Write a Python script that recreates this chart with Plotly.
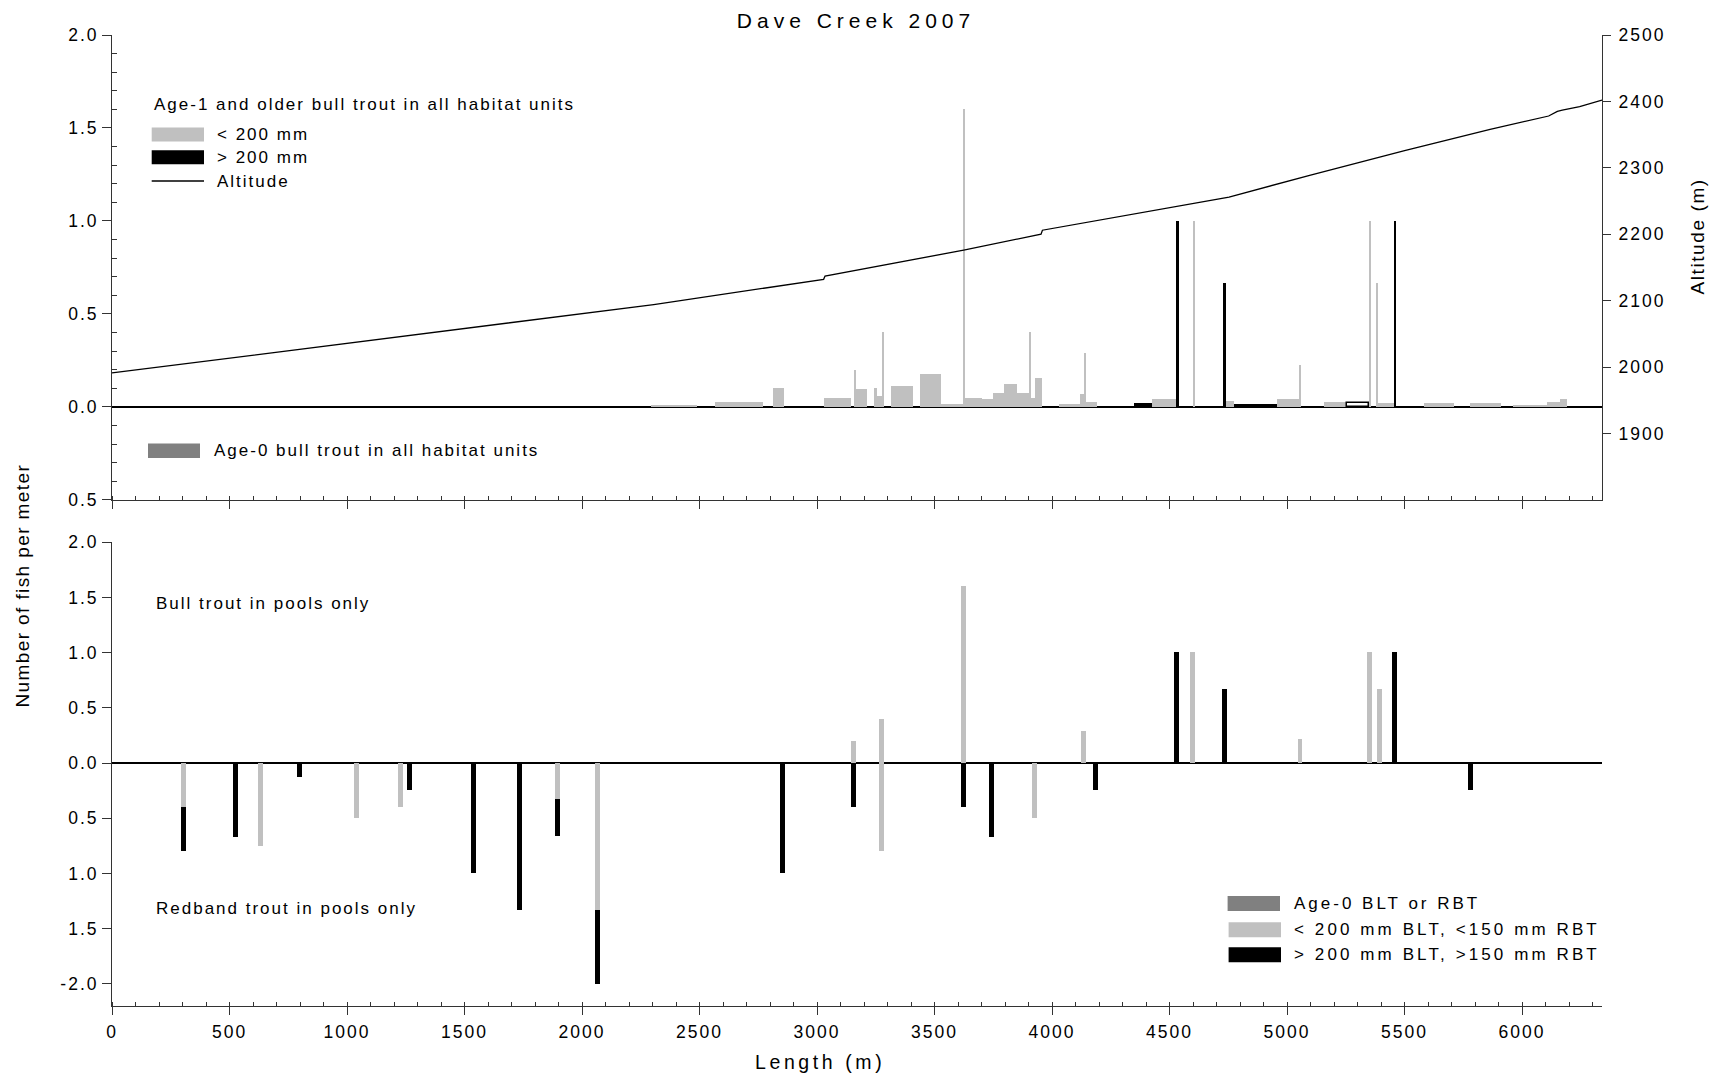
import plotly.graph_objects as go

# ---------------- data ----------------
X_MAX = 6340

# Top panel: age-1 and older bull trout in all habitat units, < 200 mm (gray)
small_start = [2295, 2564, 2814, 3028, 3156, 3166, 3241, 3255, 3277, 3313,
               3440, 3528, 3621, 3630, 3702, 3749, 3794, 3851, 3900, 3910,
               3929, 4030, 4120, 4135, 4145, 4425, 4598, 4740, 4957, 5052,
               5157, 5350, 5379, 5387, 5581, 5780, 5960, 6108, 6161]
small_end = [2490, 2770, 2861, 3145, 3166, 3213, 3255, 3277, 3285, 3407,
             3528, 3621, 3630, 3702, 3749, 3794, 3851, 3900, 3910, 3929,
             3957, 4120, 4135, 4145, 4191, 4530, 4608, 4772, 5052, 5061,
             5254, 5359, 5387, 5454, 5712, 5911, 6108, 6161, 6191]
small_val = [0.008, 0.024, 0.100, 0.050, 0.200, 0.094, 0.104, 0.058, 0.400, 0.110,
             0.175, 0.015, 1.600, 0.048, 0.040, 0.072, 0.123, 0.077, 0.400, 0.046,
             0.153, 0.014, 0.071, 0.290, 0.025, 0.040, 1.000, 0.033, 0.044, 0.225,
             0.025, 1.000, 0.667, 0.018, 0.020, 0.020, 0.008, 0.024, 0.040]

# Top panel: > 200 mm (black)
large_start = [4347, 4530, 4731, 4773, 5455]
large_end = [4425, 4538, 4739, 4957, 5463]
large_val = [0.018, 1.000, 0.667, 0.013, 1.000]

# Top panel: > 200 mm unit drawn as outline
outline_start = [5254]
outline_end = [5350]
outline_val = [0.022]

# Altitude profile (m)
alt_x = [0, 2078, 2305, 3028, 3034, 3624, 3953, 3959, 4291, 4753,
         5100, 5500, 5864, 6113, 6150, 6171, 6245, 6340]
alt_y = [1991, 2084, 2094, 2132, 2137, 2176, 2200, 2206, 2227, 2256,
         2289, 2326, 2358, 2378, 2385, 2387, 2392, 2402]

# Bottom panel: bull trout in pools only (positive)
bull_small_x = [3157, 3276, 3622, 4134, 4598, 5055, 5352, 5392]
bull_small = [0.20, 0.40, 1.60, 0.29, 1.00, 0.22, 1.00, 0.67]
bull_large_x = [4530, 4733, 5457]
bull_large = [1.00, 0.67, 1.00]

# Bottom panel: redband trout in pools only (plotted downward)
rbt_small_x = [303, 631, 1042, 1227, 1897, 2064, 3276, 3926]
rbt_small = [0.40, 0.75, 0.50, 0.40, 0.33, 1.33, 0.80, 0.50]
rbt_large_x = [303, 525, 798, 1264, 1539, 1734, 1897, 2064, 2853, 3157,
               3622, 3744, 4186, 5782]
rbt_large = [0.40, 0.67, 0.13, 0.25, 1.00, 1.33, 0.33, 0.67, 1.00, 0.40,
             0.40, 0.67, 0.25, 0.25]

top_ticks = [-0.5, 0.0, 0.5, 1.0, 1.5, 2.0]
top_ticktext = ["0.5", "0.0", "0.5", "1.0", "1.5", "2.0"]
bot_ticks = [-2.0, -1.5, -1.0, -0.5, 0.0, 0.5, 1.0, 1.5, 2.0]
bot_ticktext = ["-2.0", "1.5", "1.0", "0.5", "0.0", "0.5", "1.0", "1.5", "2.0"]
alt_ticks = [1900, 2000, 2100, 2200, 2300, 2400, 2500]

# ---------------- styling / geometry ----------------
GRAY = "#c0c0c0"
DARK = "#808080"
AX = "#333333"
FONT = "Liberation Sans, Arial, sans-serif"
W, H = 1711, 1077
L, R, T, B = 112, 109, 35, 71
PW, PH = W - L - R, H - T - B


def px(xp):
    return (xp - L) / PW


def py(yp):
    return (H - B - yp) / PH


def centers(s, e):
    return [(a + b) / 2 for a, b in zip(s, e)], [b - a for a, b in zip(s, e)]


fig = go.Figure()

# top panel bars
cx, wd = centers(small_start, small_end)
fig.add_trace(go.Bar(x=cx, y=small_val, width=wd, marker=dict(color=GRAY, line=dict(width=0)),
                     xaxis="x2", yaxis="y2", name="< 200 mm"))
cx, wd = centers(large_start, large_end)
fig.add_trace(go.Bar(x=cx, y=large_val, width=wd, marker=dict(color="black", line=dict(width=0)),
                     xaxis="x2", yaxis="y2", name="> 200 mm"))
cx, wd = centers(outline_start, outline_end)
fig.add_trace(go.Bar(x=cx, y=outline_val, width=wd,
                     marker=dict(color="white", line=dict(width=1.5, color="black")),
                     xaxis="x2", yaxis="y2", name="> 200 mm outline"))
# altitude
fig.add_trace(go.Scatter(x=alt_x, y=alt_y, mode="lines", line=dict(color="black", width=1.3),
                         xaxis="x2", yaxis="y3", name="Altitude"))

# bottom panel bars
BW = 21
fig.add_trace(go.Bar(x=bull_small_x, y=bull_small, width=BW,
                     marker=dict(color=GRAY, line=dict(width=0)), xaxis="x", yaxis="y"))
fig.add_trace(go.Bar(x=bull_large_x, y=bull_large, width=BW,
                     marker=dict(color="black", line=dict(width=0)), xaxis="x", yaxis="y"))
fig.add_trace(go.Bar(x=rbt_small_x, y=[-v for v in rbt_small], width=BW,
                     marker=dict(color=GRAY, line=dict(width=0)), xaxis="x", yaxis="y"))
small_lookup = dict(zip(rbt_small_x, rbt_small))
rbt_base = [-small_lookup.get(x, 0.0) for x in rbt_large_x]
fig.add_trace(go.Bar(x=rbt_large_x, y=[-v for v in rbt_large], base=rbt_base, width=BW,
                     marker=dict(color="black", line=dict(width=0)), xaxis="x", yaxis="y"))

tickfont = dict(family=FONT, size=17.5, color="black")
xcommon = dict(range=[0, X_MAX], showline=True, linecolor=AX, linewidth=1, ticks="outside",
               ticklen=8, tickwidth=1, tickcolor=AX, tick0=0, dtick=500, showgrid=False,
               zeroline=False, tickfont=tickfont,
               minor=dict(ticks="inside", ticklen=4, tick0=0, dtick=100, tickcolor=AX, tickwidth=1,
                          showgrid=False))

minor_top = [round(-0.5 + 0.1 * i, 2) for i in range(26) if i % 5 != 0]

fig.update_layout(
    width=W, height=H,
    margin=dict(l=L, r=R, t=T, b=B, pad=0),
    plot_bgcolor="white", paper_bgcolor="white",
    showlegend=False, barmode="overlay", bargap=0,
    font=dict(family=FONT, size=17, color="black"),
    title=dict(text="Dave Creek 2007", x=px(856), xref="paper", xanchor="center",
               y=1 - 20.5 / H, yref="container", yanchor="middle",
               font=dict(family=FONT, size=21, color="black")),
    xaxis=dict(domain=[0, 1], anchor="y", ticklabelstandoff=2, **xcommon),
    xaxis2=dict(domain=[0, 1], anchor="y2", showticklabels=False, **xcommon),
    yaxis=dict(domain=[0, py(542.3)], range=[-2.2, 2.0], anchor="x",
               tickmode="array", tickvals=bot_ticks, ticktext=bot_ticktext,
               ticks="outside", ticklen=9, tickwidth=1, tickcolor=AX,
               showline=True, linecolor=AX, linewidth=1, showgrid=False,
               zeroline=True, zerolinecolor="black", zerolinewidth=1.5,
               tickfont=tickfont, ticklabelstandoff=0),
    yaxis2=dict(domain=[py(499.8), 1], range=[-0.5, 2.0], anchor="x2",
                tickmode="array", tickvals=top_ticks, ticktext=top_ticktext,
                ticks="outside", ticklen=9, tickwidth=1, tickcolor=AX,
                minor=dict(tickmode="array", tickvals=minor_top, ticks="inside", ticklen=5,
                           tickcolor=AX, tickwidth=1, showgrid=False),
                showline=True, linecolor=AX, linewidth=1, showgrid=False,
                zeroline=True, zerolinecolor="black", zerolinewidth=1.5,
                tickfont=tickfont, ticklabelstandoff=0),
    yaxis3=dict(overlaying="y2", side="right", anchor="x2", range=[1800, 2500],
                tickmode="array", tickvals=alt_ticks, ticks="outside", ticklen=8,
                tickwidth=1, tickcolor=AX, showline=True, linecolor=AX, linewidth=1,
                showgrid=False, zeroline=False, tickfont=tickfont, ticklabelstandoff=4),
)

ann = []


def text(xp, yp, s, size=17, xanchor="left", angle=0):
    ann.append(dict(x=px(xp), y=py(yp), xref="paper", yref="paper", text=s, showarrow=False,
                    xanchor=xanchor, yanchor="middle", align="left" if xanchor == "left" else "center",
                    textangle=angle, font=dict(family=FONT, size=size, color="black")))


text(151.7, 105, "Age-1 and older bull trout in all habitat units")
text(215, 134.5, "&lt; 200 mm")
text(215, 157.3, "&gt; 200 mm")
text(215, 181, "Altitude")
text(212, 450.7, "Age-0 bull trout in all habitat units")
text(153.9, 603.4, "Bull trout in pools only")
text(153.9, 908, "Redband trout in pools only")
text(1292, 903.5, "Age-0 BLT or RBT")
text(1292, 929.7, "&lt; 200 mm BLT, &lt;150 mm RBT")
text(1292, 954.8, "&gt; 200 mm BLT, &gt;150 mm RBT")
text(820, 1061.5, "Length (m)", size=19.5, xanchor="center")
text(21.8, 585, "Number of fish per meter", size=19, xanchor="center", angle=-90)
text(1697, 237, "Altitude (m)", size=19, xanchor="center", angle=-90)
fig.update_layout(annotations=ann)

shapes = []


def rect(x0, y0, x1, y1, color):
    shapes.append(dict(type="rect", xref="paper", yref="paper", x0=px(x0), x1=px(x1),
                       y0=py(y1), y1=py(y0), fillcolor=color, line=dict(width=0)))


rect(151.7, 127.5, 204, 141.5, GRAY)
rect(151.7, 150.2, 204, 164.3, "black")
shapes.append(dict(type="line", xref="paper", yref="paper", x0=px(151.7), x1=px(204),
                   y0=py(181), y1=py(181), line=dict(color="black", width=1.3)))
rect(148, 443.5, 200, 458, DARK)
rect(1227.6, 896, 1280, 911, DARK)
rect(1228.6, 922.2, 1281, 937.2, GRAY)
rect(1228.6, 947.3, 1281, 962.3, "black")
fig.update_layout(shapes=shapes)

post = """
document.body.style.margin='0';
var gd=document.getElementById('{plot_id}');
function spaceText(){
  var m={'Dave Creek 2007':5.0,'Length (m)':3.6,'Number of fish per meter':1.4,
         'Altitude (m)':1.6,'< 200 mm BLT, <150 mm RBT':3.1,'> 200 mm BLT, >150 mm RBT':3.1,
         'Age-0 BLT or RBT':3.0};
  gd.querySelectorAll('text').forEach(function(t){
    var s=t.textContent; var sp=(s in m)?m[s]:2.0;
    t.style.letterSpacing=sp+'px';
  });
}
spaceText();
"""

fig.write_html("out.html", post_script=post, config={"displayModeBar": False})
